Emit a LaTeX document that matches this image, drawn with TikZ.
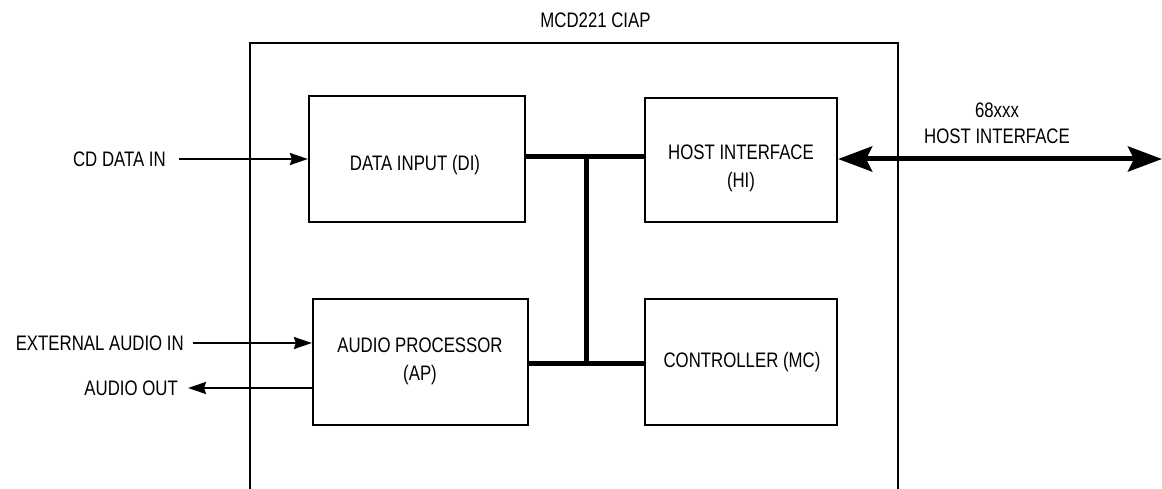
\documentclass[tikz,border=0pt]{standalone}
\usepackage{fontspec}
\setmainfont{Liberation Sans}[FakeStretch=0.8]
\usetikzlibrary{arrows.meta}
\begin{document}
\begin{tikzpicture}[x=1pt,y=-1pt,
  blockbox/.style={draw,line width=2.2pt,rectangle,inner sep=0pt},
  lbl/.style={inner sep=0pt,font=\fontsize{21}{28}\selectfont,align=center},
  sig/.style={line width=2.3pt,-{Stealth[length=18pt,width=12pt,inset=2pt]}},
  bus/.style={line width=5pt},
  hostbus/.style={line width=5pt,{Stealth[length=34pt,width=25pt,inset=6pt]}-{Stealth[length=34pt,width=25pt,inset=6pt]}}
]
\useasboundingbox (0,0) rectangle (1162,489);
% outer chip outline
\coordinate (obl) at (250,495);
\coordinate (obr) at (898,495);
\draw[line width=2.2pt] (obl) |- (898,43) -- (obr);
\node[lbl] (title) at (595.5,20) {MCD221 CIAP};

% blocks
\node[blockbox,minimum width=216pt,minimum height=126pt] (di) at (417,159) {};
\node[blockbox,minimum width=192pt,minimum height=124pt] (hi) at (741,160) {};
\node[blockbox,minimum width=215pt,minimum height=126pt] (ap) at (420.5,362) {};
\node[blockbox,minimum width=192pt,minimum height=126pt] (mc) at (741,362) {};

\node[lbl] (dit) at (415,165) {DATA INPUT (DI)};
\node[lbl] (hit) at (741,168.5) {HOST INTERFACE\\(HI)};
\node[lbl] (apt) at (420,361.5) {AUDIO PROCESSOR\\(AP)};
\node[lbl] (mct) at (742,362) {CONTROLLER (MC)};

% external signals
\node[lbl,anchor=east] (cdl) at (166,159) {CD DATA IN};
\node[lbl,anchor=east] (extl) at (184,343) {EXTERNAL AUDIO IN};
\node[lbl,anchor=east] (aol) at (178,388) {AUDIO OUT};
\coordinate (cdin) at (179,159);
\coordinate (extin) at (193,343);
\coordinate (aout) at (188,388);
\draw[sig] (cdin) -- (cdin -| di.west);
\draw[sig] (extin) -- (extin -| ap.west);
\draw[sig] (aout -| ap.west) -- (aout);

% internal bus
\coordinate (btop) at (586,157);
\coordinate (bbot) at (586,363);
\draw[bus] (btop -| di.east) -- (btop -| hi.west);
\draw[bus] (bbot -| ap.east) -- (bbot -| mc.west);
\draw[bus] ([yshift=-2.5pt]btop) -- ([yshift=2.5pt]bbot);

% host bus
\coordinate (hostend) at (1162,159);
\draw[hostbus] (hostend -| hi.east) -- (hostend);
\node[lbl] (h1) at (997,110) {68xxx};
\node[lbl] (h2) at (997,136) {HOST INTERFACE};
\end{tikzpicture}
\end{document}
